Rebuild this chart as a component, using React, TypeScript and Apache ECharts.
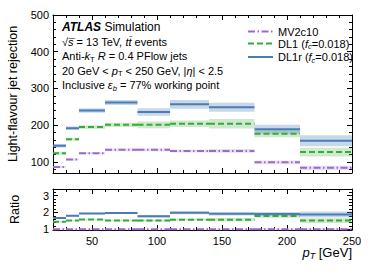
import React, { useEffect, useRef } from "react";
import * as echarts from "echarts";

// ---- data ----
const binEdges = [20, 30, 40, 60, 85, 110, 140, 175, 210, 250];
const mv2c10 = [86, 107, 124, 133, 133, 130, 130, 99, 84];
const mv2c10Err = [3, 3, 3, 4, 4, 4, 5, 5, 6];
const dl1 = [124, 162, 195, 201, 201, 204, 204, 177, 127];
const dl1Err = [4, 4, 5, 6, 9, 9, 13, 10, 12];
const dl1r = [144, 192, 240, 262, 236, 257, 249, 189, 158];
const dl1rErr = [5, 5, 6, 7, 10, 12, 12, 12, 15];

const xMajorTicks = [50, 100, 150, 200, 250];
const yMajorTicks = [100, 200, 300, 400, 500];
const ratioMajorTicks = [1, 2, 3];

const legendNames = ["MV2c10", "DL1", "DL1r"];

const fontFamily = '"Liberation Sans", Arial, Helvetica, sans-serif';

const COLORS = {
  mv2c10: "#9a6cc9",
  dl1: "#3aa83a",
  dl1r: "#4a7db5",
};
const BANDS = {
  mv2c10: "rgba(154,108,201,0.22)",
  dl1: "rgba(58,168,58,0.25)",
  dl1r: "rgba(74,125,181,0.3)",
};
const DASH = {
  mv2c10: [7, 2.5, 1.5, 2.5],
  dl1: [6, 3],
  dl1r: "solid",
};

function minorTicks(min: number, max: number, step: number, majors: number[]) {
  const out: number[] = [];
  const n = Math.round((max - min) / step);
  for (let i = 0; i <= n; i++) {
    const v = Math.round((min + i * step) * 1000) / 1000;
    if (!majors.some((m) => Math.abs(m - v) < 1e-6)) out.push(v);
  }
  return out;
}

const xMinor = minorTicks(30, 240, 10, xMajorTicks);
const yMinor = minorTicks(80, 480, 20, yMajorTicks);
const rMinor = minorTicks(1.2, 3.4, 0.2, ratioMajorTicks);

function stepData(vals: number[]) {
  const d: any[] = [];
  vals.forEach((v, i) => {
    d.push([binEdges[i], v]);
    d.push([binEdges[i + 1], v]);
    d.push([binEdges[i + 1], "-"]);
  });
  return d;
}
function bandData(vals: number[], errs: number[]) {
  return vals.map((v, i) => [binEdges[i], binEdges[i + 1], v, errs[i]]);
}

const tickStyle = { color: "#000", width: 1 };

function mkX(grid: number, position: string, ticks: number[], len: number, showLine: boolean, labels: boolean) {
  return {
    type: "value",
    gridIndex: grid,
    position,
    min: 20,
    max: 250,
    axisLine: { show: showLine, onZero: false, lineStyle: { color: "#000", width: 1 } },
    axisTick: { show: true, inside: true, length: len, customValues: ticks, lineStyle: tickStyle },
    axisLabel: labels
      ? { show: true, customValues: ticks, color: "#000", fontSize: 11, fontFamily, margin: 5 }
      : { show: false },
    splitLine: { show: false },
  };
}
function mkY(grid: number, position: string, min: number, max: number, ticks: number[], len: number, showLine: boolean, labels: boolean, name?: string) {
  return {
    type: "value",
    gridIndex: grid,
    position,
    min,
    max,
    name: name || "",
    nameLocation: "middle",
    nameGap: 32,
    nameTextStyle: { color: "#000", fontSize: 12.5, fontFamily },
    axisLine: { show: showLine, onZero: false, lineStyle: { color: "#000", width: 1 } },
    axisTick: { show: true, inside: true, length: len, customValues: ticks, lineStyle: tickStyle },
    axisLabel: labels
      ? { show: true, customValues: ticks, color: "#000", fontSize: 11, fontFamily, margin: 4 }
      : { show: false },
    splitLine: { show: false },
  };
}

function bandSeries(name: string, vals: number[], errs: number[], color: string, xi: number, yi: number) {
  return {
    type: "custom",
    name: name + " band",
    xAxisIndex: xi,
    yAxisIndex: yi,
    clip: true,
    z: 1,
    encode: { x: [0, 1], y: 2 },
    data: bandData(vals, errs),
    renderItem: (params: any, api: any) => {
      const x0 = api.value(0);
      const x1 = api.value(1);
      const y = api.value(2);
      const e = api.value(3);
      const p0 = api.coord([x0, y + e]);
      const p1 = api.coord([x1, y - e]);
      return {
        type: "rect",
        shape: { x: p0[0], y: p0[1], width: p1[0] - p0[0], height: p1[1] - p0[1] },
        style: { fill: color },
      };
    },
  };
}
function lineSeries(name: string, vals: number[], color: string, dash: any, xi: number, yi: number) {
  return {
    type: "line",
    name,
    xAxisIndex: xi,
    yAxisIndex: yi,
    z: 3,
    showSymbol: false,
    symbol: "none",
    connectNulls: false,
    data: stepData(vals),
    lineStyle: { color, width: 2, type: dash },
    itemStyle: { color },
  };
}

const ratio = (vals: number[]) => vals.map((v, i) => v / mv2c10[i]);
const ratioErr = (errs: number[]) => errs.map((e, i) => e / mv2c10[i]);

const rich = {
  n: { fontSize: 11, fontFamily, color: "#000", lineHeight: 14 },
  i: { fontSize: 11, fontFamily, color: "#000", fontStyle: "italic", lineHeight: 14 },
  s: { fontSize: 7.5, fontFamily, color: "#000", verticalAlign: "bottom", lineHeight: 11 },
  si: { fontSize: 7.5, fontFamily, color: "#000", fontStyle: "italic", verticalAlign: "bottom", lineHeight: 11 },
  b: { fontSize: 12, fontFamily, color: "#000", fontStyle: "italic", fontWeight: "bold", lineHeight: 14 },
  t: { fontSize: 12, fontFamily, color: "#000", lineHeight: 14 },
  xi: { fontSize: 13, fontFamily, color: "#000", fontStyle: "italic", lineHeight: 16 },
  xs: { fontSize: 9, fontFamily, color: "#000", fontStyle: "italic", verticalAlign: "bottom", lineHeight: 13 },
  xn: { fontSize: 13, fontFamily, color: "#000", lineHeight: 16 },
};

const annotation = [
  "{b|ATLAS} {t|Simulation}",
  "{n|\u221A}{i|s\u0305}{n| = 13 TeV, }{i|tt\u0304}{n| events}",
  "{n|Anti-}{i|k}{s|T}{n| }{i|R}{n| = 0.4 PFlow jets}",
  "{n|20 GeV < }{i|p}{s|T}{n| < 250 GeV, |}{i|\u03B7}{n|| < 2.5}",
  "{n|Inclusive }{i|\u03B5}{si|b}{n| = 77% working point}",
];
const annotationY = [28, 43, 57.5, 72, 86.5];

export default function App() {
  const ref = useRef<HTMLDivElement>(null);
  useEffect(() => {
    if (!ref.current) return;
    const chart = echarts.init(ref.current, undefined, { renderer: "svg" });
    const option: any = {
      animation: false,
      backgroundColor: "#fff",
      grid: [
        { left: 53, right: 22, top: 15, height: 158, outerBoundsMode: "none", containLabel: false },
        { left: 53, right: 22, top: 189, height: 41, outerBoundsMode: "none", containLabel: false },
      ],
      xAxis: [
        mkX(0, "bottom", xMajorTicks, 5, true, false),
        mkX(0, "bottom", xMinor, 3, false, false),
        mkX(0, "top", xMajorTicks, 5, true, false),
        mkX(0, "top", xMinor, 3, false, false),
        mkX(1, "bottom", xMajorTicks, 5, true, true),
        mkX(1, "bottom", xMinor, 3, false, false),
        mkX(1, "top", xMajorTicks, 5, true, false),
        mkX(1, "top", xMinor, 3, false, false),
      ],
      yAxis: [
        mkY(0, "left", 70, 500, yMajorTicks, 5, true, true, "Light-flavour jet rejection"),
        mkY(0, "left", 70, 500, yMinor, 3, false, false),
        mkY(0, "right", 70, 500, yMajorTicks, 5, true, false),
        mkY(0, "right", 70, 500, yMinor, 3, false, false),
        mkY(1, "left", 0.95, 3.4, ratioMajorTicks, 5, true, true, "Ratio"),
        mkY(1, "left", 0.95, 3.4, rMinor, 3, false, false),
        mkY(1, "right", 0.95, 3.4, ratioMajorTicks, 5, true, false),
        mkY(1, "right", 0.95, 3.4, rMinor, 3, false, false),
      ],
      legend: {
        orient: "vertical",
        left: 242,
        top: 21,
        itemWidth: 25,
        itemHeight: 10,
        itemGap: 1,
        data: legendNames,
        itemStyle: { opacity: 0 },
        textStyle: { rich, fontSize: 11, fontFamily, color: "#000" },
        formatter: (name: string) =>
          name === "MV2c10"
            ? "{n|MV2c10}"
            : "{n|" + name + " (}{i|f}{si|c}{n|=0.018)}",
      },
      series: [
        bandSeries("MV2c10", mv2c10, mv2c10Err, BANDS.mv2c10, 0, 0),
        bandSeries("DL1", dl1, dl1Err, BANDS.dl1, 0, 0),
        bandSeries("DL1r", dl1r, dl1rErr, BANDS.dl1r, 0, 0),
        lineSeries("MV2c10", mv2c10, COLORS.mv2c10, DASH.mv2c10, 0, 0),
        lineSeries("DL1", dl1, COLORS.dl1, DASH.dl1, 0, 0),
        lineSeries("DL1r", dl1r, COLORS.dl1r, DASH.dl1r, 0, 0),
        bandSeries("MV2c10 ratio", ratio(mv2c10), ratioErr(mv2c10Err), BANDS.mv2c10, 4, 4),
        bandSeries("DL1 ratio", ratio(dl1), ratioErr(dl1Err), BANDS.dl1, 4, 4),
        bandSeries("DL1r ratio", ratio(dl1r), ratioErr(dl1rErr), BANDS.dl1r, 4, 4),
        lineSeries("MV2c10 ratio", ratio(mv2c10), COLORS.mv2c10, DASH.mv2c10, 4, 4),
        lineSeries("DL1 ratio", ratio(dl1), COLORS.dl1, DASH.dl1, 4, 4),
        lineSeries("DL1r ratio", ratio(dl1r), COLORS.dl1r, DASH.dl1r, 4, 4),
      ],
      graphic: [
        ...annotation.map((t, k) => ({
          type: "text",
          left: 62,
          top: annotationY[k] - 7,
          style: { text: t, rich, fontFamily, fill: "#000" },
        })),
        {
          type: "text",
          right: 22,
          top: 246,
          style: { text: "{xi|p}{xs|T}{xn| [GeV]}", rich, fontFamily, fill: "#000" },
        },
      ],
    };
    chart.setOption(option);
    return () => chart.dispose();
  }, []);
  return (
    <div
      ref={ref}
      style={{ position: "fixed", left: 0, top: 0, width: 374, height: 280, background: "#fff" }}
    />
  );
}
